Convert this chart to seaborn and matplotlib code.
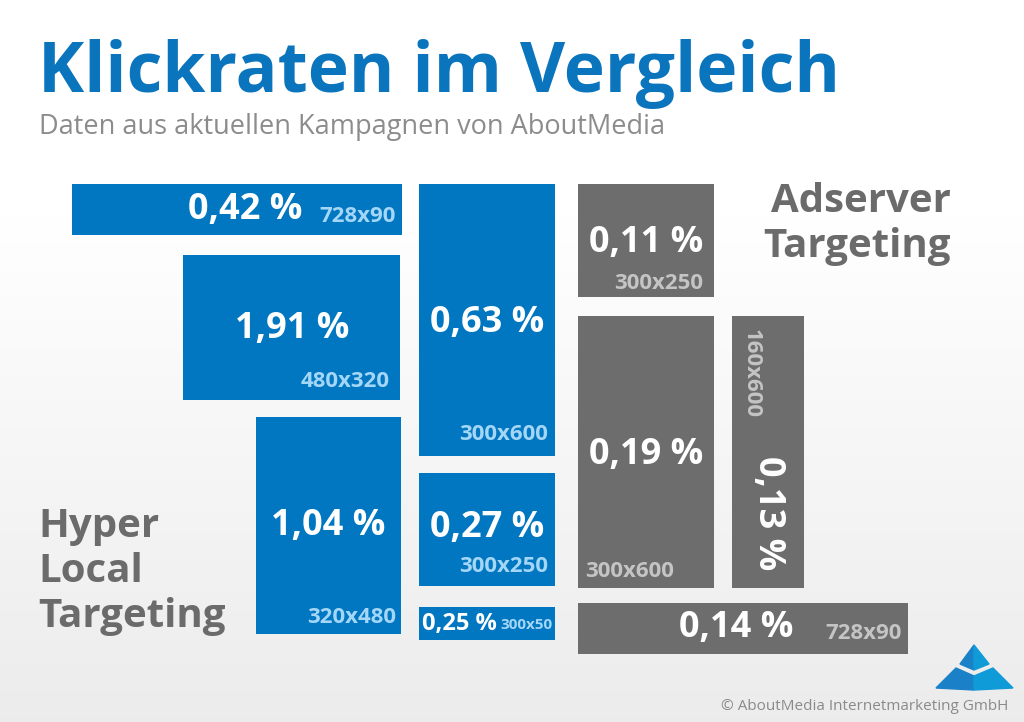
import matplotlib
matplotlib.use("Agg")
import matplotlib.pyplot as plt
import numpy as np
import seaborn as sns
from matplotlib.patches import Polygon

sns.set_theme(style="white")
plt.rcParams['font.family'] = ['Open Sans', 'DejaVu Sans']

# data: ad formats and their click rates (CTR in %)
formats = ['728x90', '480x320', '300x600', '320x480', '300x250', '300x50',
           '300x250', '300x600', '160x600', '728x90']
ctr = [0.42, 1.91, 0.63, 1.04, 0.27, 0.25, 0.11, 0.19, 0.13, 0.14]
groups = ['Hyper Local'] * 6 + ['Adserver'] * 4

# layout (pixel canvas): top-left corner of each box
box_left = [72, 183, 419, 256, 419, 419, 578, 578, 732, 578]
box_top = [184, 255, 184, 417, 473, 607, 184, 316, 316, 603]
scale = 0.453          # ad pixels -> canvas pixels
banner_pad = 10        # thin banners are drawn a bit taller

# text placement inside each box: (fx, fy, ha) as fractions of the box
val_pos = [(0.70, 0.51, 'right'), (0.5, 0.51, 'center'), (0.5, 0.51, 'center'),
           (0.5, 0.50, 'center'), (0.5, 0.49, 'center'), (0.02, 0.52, 'left'),
           (0.5, 0.52, 'center'), (0.5, 0.51, 'center'), (0.5, 0.725, 'center'),
           (0.48, 0.50, 'center')]
lab_pos = [(0.75, 0.64, 'left'), (0.95, 0.87, 'right'), (0.95, 0.92, 'right'),
           (0.965, 0.92, 'right'), (0.95, 0.83, 'right'), (0.985, 0.55, 'right'),
           (0.92, 0.88, 'right'), (0.05, 0.94, 'left'), (0.27, 0.21, 'center'),
           (0.75, 0.60, 'left')]
val_size = [26, 26, 26, 26, 26, 17, 26, 26, 26, 26]
lab_size = [16, 16, 16, 16, 16, 11, 16, 16, 16, 16]
rotated = [False] * 8 + [True, False]

fill = {'Hyper Local': '#0077c0', 'Adserver': '#6d6d6d'}
lab_col = {'Hyper Local': '#a3d6f7', 'Adserver': '#c4c4c4'}

W, H = 1024, 722
fig = plt.figure(figsize=(W / 100, H / 100), dpi=100)
ax = fig.add_axes([0, 0, 1, 1])
ax.set_xlim(0, W)
ax.set_ylim(H, 0)
ax.axis('off')

# soft background gradient
grad = np.clip((np.linspace(0, 1, 200) - 0.3) / 0.7, 0, 1)[:, None]
bg = 1 - 0.075 * grad
ax.imshow(np.dstack([bg, bg, bg]), extent=[0, W, H, 0], aspect='auto', zorder=0)

for i, fmt in enumerate(formats):
    aw, ah = [int(v) for v in fmt.split('x')]
    w = aw * scale
    h = ah * scale + (banner_pad if ah < 100 else 0)
    x0, y0 = box_left[i], box_top[i]
    ax.bar(x0, h, width=w, bottom=y0, align='edge', color=fill[groups[i]],
           edgecolor='none', zorder=2)
    fx, fy, ha = val_pos[i]
    txt = f"{ctr[i]:.2f}".replace('.', ',') + " %"
    rot = 270 if rotated[i] else 0
    ax.text(x0 + fx * w, y0 + fy * h, txt, ha=ha, va='center', color='white',
            fontsize=val_size[i], fontweight='bold', rotation=rot, zorder=3)
    lx, ly, lha = lab_pos[i]
    ax.text(x0 + lx * w, y0 + ly * h, fmt, ha=lha, va='center',
            color=lab_col[groups[i]], fontsize=lab_size[i], fontweight='bold',
            rotation=rot, zorder=3)

# titles
ax.text(38, 92, 'Klickraten im Vergleich', fontsize=50, fontweight='bold',
        color='#0a74bd', va='baseline')
ax.text(39, 134, 'Daten aus aktuellen Kampagnen von AboutMedia', fontsize=19.5,
        color='#8c8c8c', va='baseline')

# group labels
for yb, line in zip([212, 257], ['Adserver', 'Targeting']):
    ax.text(951, yb, line, fontsize=29, fontweight='bold', color='#6b6b6b',
            ha='right', va='baseline')
for yb, line in zip([537, 582, 627], ['Hyper', 'Local', 'Targeting']):
    ax.text(38, yb, line, fontsize=29, fontweight='bold', color='#6b6b6b',
            ha='left', va='baseline')

# logo
logo = [([(974, 645), (960, 664), (974, 670)], '#1a80c8'),
        ([(974, 645), (989, 664), (974, 670)], '#0f9ad8'),
        ([(956, 668), (974, 676), (974, 690), (936, 688)], '#1a80c8'),
        ([(993, 668), (1013, 688), (974, 690), (974, 676)], '#0f9ad8')]
for pts, c in logo:
    ax.add_patch(Polygon(pts, closed=True, color=c, zorder=3))

ax.text(1008, 707, '\u00a9 AboutMedia Internetmarketing GmbH', fontsize=11,
        color='#8a8a8a', ha='right', va='center')

fig.savefig('out.png', dpi=100)
